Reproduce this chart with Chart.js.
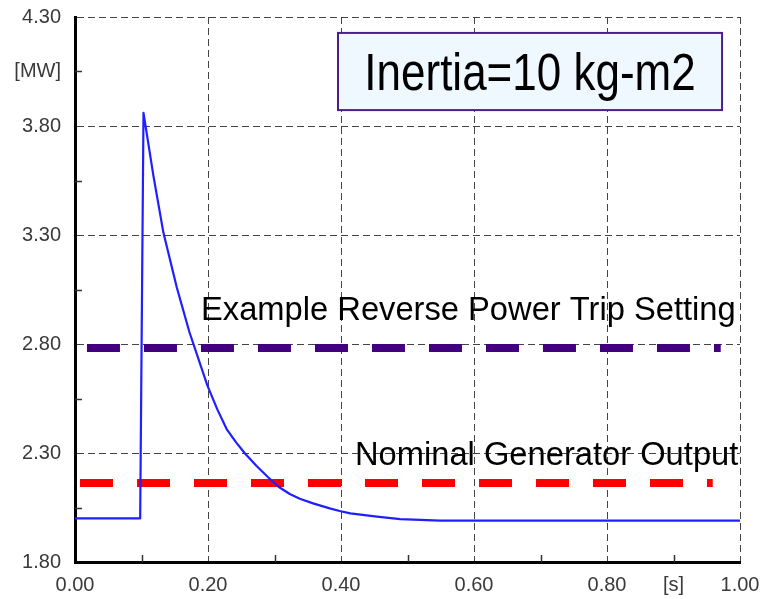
<!DOCTYPE html>
<html>
<head>
<meta charset="utf-8">
<script src="https://cdn.jsdelivr.net/npm/chart.js@4/dist/chart.umd.min.js"></script>
<style>
  html, body { margin: 0; padding: 0; background: #ffffff; }
  #wrap { width: 760px; height: 599px; }
</style>
</head>
<body>
<div id="wrap"><canvas id="c" width="760" height="599"></canvas></div>
<script>
// ---- data ----
const timeS = [0, 0.098, 0.103, 0.118, 0.133, 0.153, 0.172, 0.199, 0.214, 0.228, 0.242, 0.255, 0.273, 0.290, 0.306, 0.323, 0.338, 0.358, 0.383, 0.398, 0.414, 0.454, 0.489, 0.549, 1.0];
const powerMW = [2.00, 2.00, 3.86, 3.57, 3.31, 3.06, 2.855, 2.61, 2.50, 2.41, 2.35, 2.30, 2.24, 2.19, 2.145, 2.112, 2.09, 2.069, 2.046, 2.034, 2.023, 2.008, 1.997, 1.99, 1.99];

const tripSettingMW = 2.782;
const tripSettingSpan = [0.018, 0.971];
const nominalOutputMW = 2.162;
const nominalOutputSpan = [0.0075, 0.959];

const xTicks = [0, 0.1, 0.2, 0.3, 0.4, 0.5, 0.6, 0.7, 0.8, 0.9, 1.0];
const xTickLabels = ['0.00', '', '0.20', '', '0.40', '', '0.60', '', '0.80', '[s]', '1.00'];
const yTicks = [1.8, 2.05, 2.3, 2.55, 2.8, 3.05, 3.3, 3.55, 3.8, 4.05, 4.3];
const yTickLabels = ['1.80', '', '2.30', '', '2.80', '', '3.30', '', '3.80', '[MW]', '4.30'];

const labelTrip = 'Example Reverse Power Trip Setting';
const labelNominal = 'Nominal Generator Output';
const labelInertia = 'Inertia=10 kg-m2';

// ---- chart ----
const isMajor = (i) => i % 2 === 0;

const annotationPlugin = {
  id: 'annotations',
  afterDatasetsDraw(chart) {
    const ctx = chart.ctx;
    const xs = chart.scales.x, ys = chart.scales.y;
    const area = chart.chartArea;
    ctx.save();
    // inward minor tick marks
    ctx.strokeStyle = '#333333';
    ctx.lineWidth = 1.5;
    xTicks.forEach((v, i) => {
      if (isMajor(i)) return;
      const px = Math.round(xs.getPixelForValue(v)) + 0.5;
      ctx.beginPath();
      ctx.moveTo(px, area.bottom);
      ctx.lineTo(px, area.bottom - 7);
      ctx.stroke();
    });
    yTicks.forEach((v, i) => {
      if (isMajor(i)) return;
      const py = Math.round(ys.getPixelForValue(v)) + 0.5;
      ctx.beginPath();
      ctx.moveTo(area.left, py);
      ctx.lineTo(area.left + 7, py);
      ctx.stroke();
    });

    // text labels
    ctx.fillStyle = '#000000';
    ctx.font = '32.7px "Liberation Sans", Arial, sans-serif';
    ctx.textAlign = 'left';
    ctx.textBaseline = 'alphabetic';
    ctx.fillText(labelTrip, xs.getPixelForValue(0.1895), ys.getPixelForValue(2.91));
    ctx.fillText(labelNominal, xs.getPixelForValue(0.421), ys.getPixelForValue(2.245));

    // inertia box
    const bx0 = xs.getPixelForValue(0.3955), bx1 = xs.getPixelForValue(0.973);
    const by0 = ys.getPixelForValue(4.227), by1 = ys.getPixelForValue(3.873);
    ctx.fillStyle = '#F0F8FF';
    ctx.fillRect(bx0, by0, bx1 - bx0, by1 - by0);
    ctx.strokeStyle = '#4B1E8C';
    ctx.lineWidth = 2;
    ctx.strokeRect(bx0, by0, bx1 - bx0, by1 - by0);
    ctx.save();
    ctx.translate((bx0 + bx1) / 2, ys.getPixelForValue(3.965));
    ctx.scale(1, 1.17);
    ctx.fillStyle = '#000000';
    ctx.font = '44px "Liberation Sans", Arial, sans-serif';
    ctx.textAlign = 'center';
    ctx.fillText(labelInertia, 0, 0);
    ctx.restore();
    ctx.restore();
  }
};

const bgPlugin = {
  id: 'bg',
  beforeDraw(chart) {
    const ctx = chart.ctx;
    ctx.save();
    ctx.fillStyle = '#ffffff';
    ctx.fillRect(0, 0, chart.width, chart.height);
    ctx.restore();
  }
};

new Chart(document.getElementById('c'), {
  type: 'line',
  data: {
    datasets: [
      {
        label: 'Power',
        data: timeS.map((t, i) => ({ x: t, y: powerMW[i] })),
        borderColor: '#1f1fff',
        borderWidth: 2.2,
        pointRadius: 0,
        tension: 0,
        borderJoinStyle: 'round',
        fill: false
      },
      {
        label: labelTrip,
        data: tripSettingSpan.map(t => ({ x: t, y: tripSettingMW })),
        borderColor: '#42007F',
        borderWidth: 8,
        borderDash: [33, 24],
        borderCapStyle: 'butt',
        pointRadius: 0,
        fill: false
      },
      {
        label: labelNominal,
        data: nominalOutputSpan.map(t => ({ x: t, y: nominalOutputMW })),
        borderColor: '#FF0000',
        borderWidth: 8,
        borderDash: [33, 24],
        borderCapStyle: 'butt',
        pointRadius: 0,
        fill: false
      }
    ]
  },
  options: {
    responsive: false,
    animation: false,
    events: [],
    layout: { padding: { top: 17, right: 20, left: 0, bottom: 0 } },
    plugins: { legend: { display: false }, tooltip: { enabled: false } },
    scales: {
      x: {
        type: 'linear',
        min: 0, max: 1,
        afterBuildTicks: (s) => { s.ticks = xTicks.map(v => ({ value: v })); },
        afterFit: (s) => { s.height = 37; s.paddingLeft = 0; s.paddingRight = 0; },
        ticks: {
          autoSkip: false, maxRotation: 0, padding: 11,
          color: '#3a3a3a',
          font: { family: '"Liberation Sans", Arial, sans-serif', size: 20 },
          callback: (v, i) => xTickLabels[i]
        },
        grid: {
          drawTicks: false,
          lineWidth: 1,
          color: (c) => isMajor(c.index) ? '#444444' : 'rgba(0,0,0,0)'
        },
        border: { display: true, color: '#000000', width: 3, dash: [7, 4] }
      },
      y: {
        type: 'linear',
        min: 1.8, max: 4.3,
        afterBuildTicks: (s) => { s.ticks = yTicks.map(v => ({ value: v })); },
        afterFit: (s) => { s.width = 75; s.paddingTop = 0; s.paddingBottom = 0; },
        ticks: {
          autoSkip: false, padding: 14,
          color: '#3a3a3a',
          font: { family: '"Liberation Sans", Arial, sans-serif', size: 20 },
          callback: (v, i) => yTickLabels[i]
        },
        grid: {
          drawTicks: false,
          lineWidth: 1,
          color: (c) => isMajor(c.index) ? '#444444' : 'rgba(0,0,0,0)'
        },
        border: { display: true, color: '#000000', width: 3, dash: [7, 4] }
      }
    }
  },
  plugins: [bgPlugin, annotationPlugin]
});
</script>
</body>
</html>
